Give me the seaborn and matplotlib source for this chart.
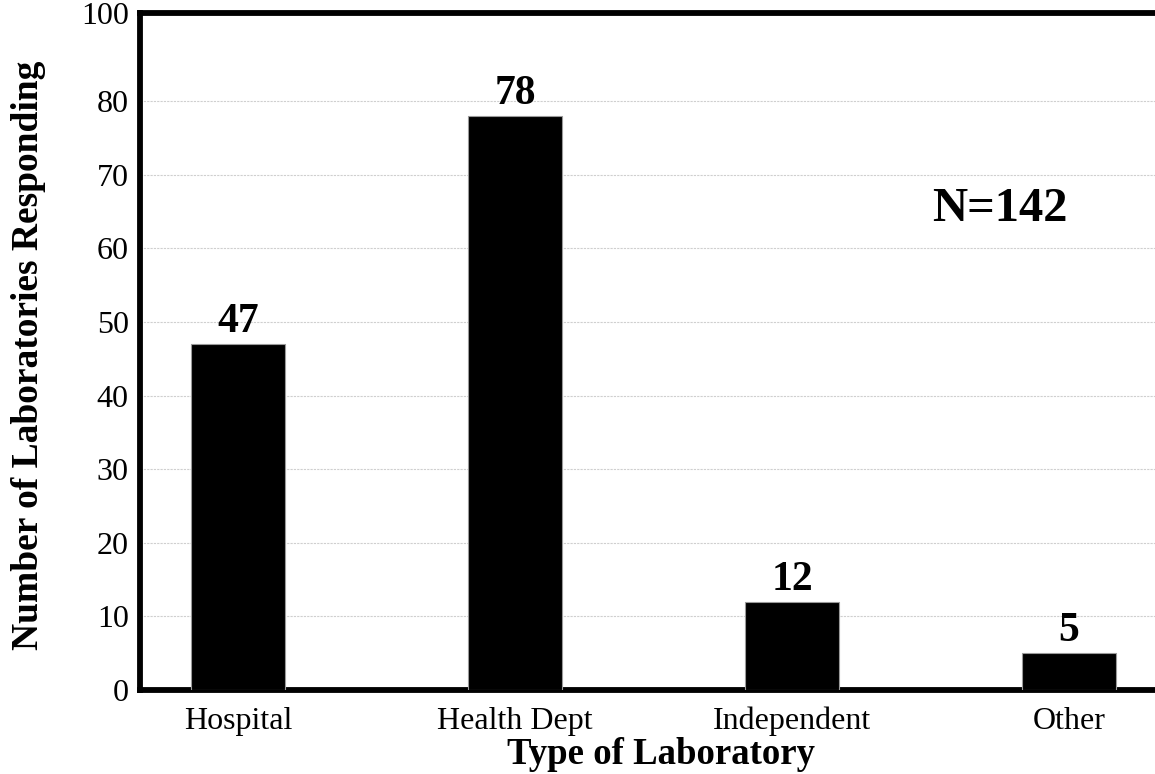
import matplotlib
matplotlib.use("Agg")
import matplotlib.pyplot as plt
import seaborn as sns

## data
lab_types = ["Hospital", "Health Dept", "Independent", "Other"]
counts = [47, 78, 12, 5]
y_ticks = [0, 10, 20, 30, 40, 50, 60, 70, 80]
y_top = 92
y_tick_labels = ["0", "10", "20", "30", "40", "50", "60", "70", "80", "100"]
total_label = "N=142"

sns.set_style("white")
plt.rcParams["font.family"] = ["Liberation Serif", "DejaVu Serif"]
plt.rcParams["text.color"] = "black"

fig = plt.figure(figsize=(11.55, 7.74), dpi=100)
ax = fig.add_axes([0.1212, 0.1085, 0.8788, 0.8747])

sns.barplot(x=lab_types, y=counts, color="black", saturation=1, width=0.34,
            edgecolor="#9a9a9a", linewidth=0.8, ax=ax, zorder=3)

ax.bar_label(ax.containers[0], fmt="%d", padding=2, fontsize=30,
             fontweight="bold", color="black")

ax.set_xlim(-0.354, 3.31)
ax.set_ylim(0, y_top)
ax.set_yticks(y_ticks + [y_top])
ax.set_yticklabels(y_tick_labels)

# dotted light grid, only inside the range
for v in y_ticks[1:]:
    ax.axhline(v, color="#cfcfcf", lw=0.8, ls=(0, (2, 1)), zorder=1)

for side in ["left", "top", "bottom"]:
    ax.spines[side].set_linewidth(4.2)
    ax.spines[side].set_color("black")
ax.spines["right"].set_visible(False)

ax.tick_params(axis="both", length=0, labelsize=23, colors="black")
ax.tick_params(axis="y", pad=8)
ax.tick_params(axis="x", pad=12)

ax.set_xlabel("Type of Laboratory", fontsize=26.5, fontweight="bold", color="black")
ax.set_ylabel("Number of Laboratories Responding", fontsize=27,
              fontweight="bold", color="black")
ax.xaxis.set_label_coords(0.513, -0.069)
ax.yaxis.set_label_coords(-0.093, 0.495)

ax.text(2.75, 65.3, total_label, fontsize=35, fontweight="bold",
        ha="center", va="center", color="black")

fig.savefig("out.png", dpi=100)
